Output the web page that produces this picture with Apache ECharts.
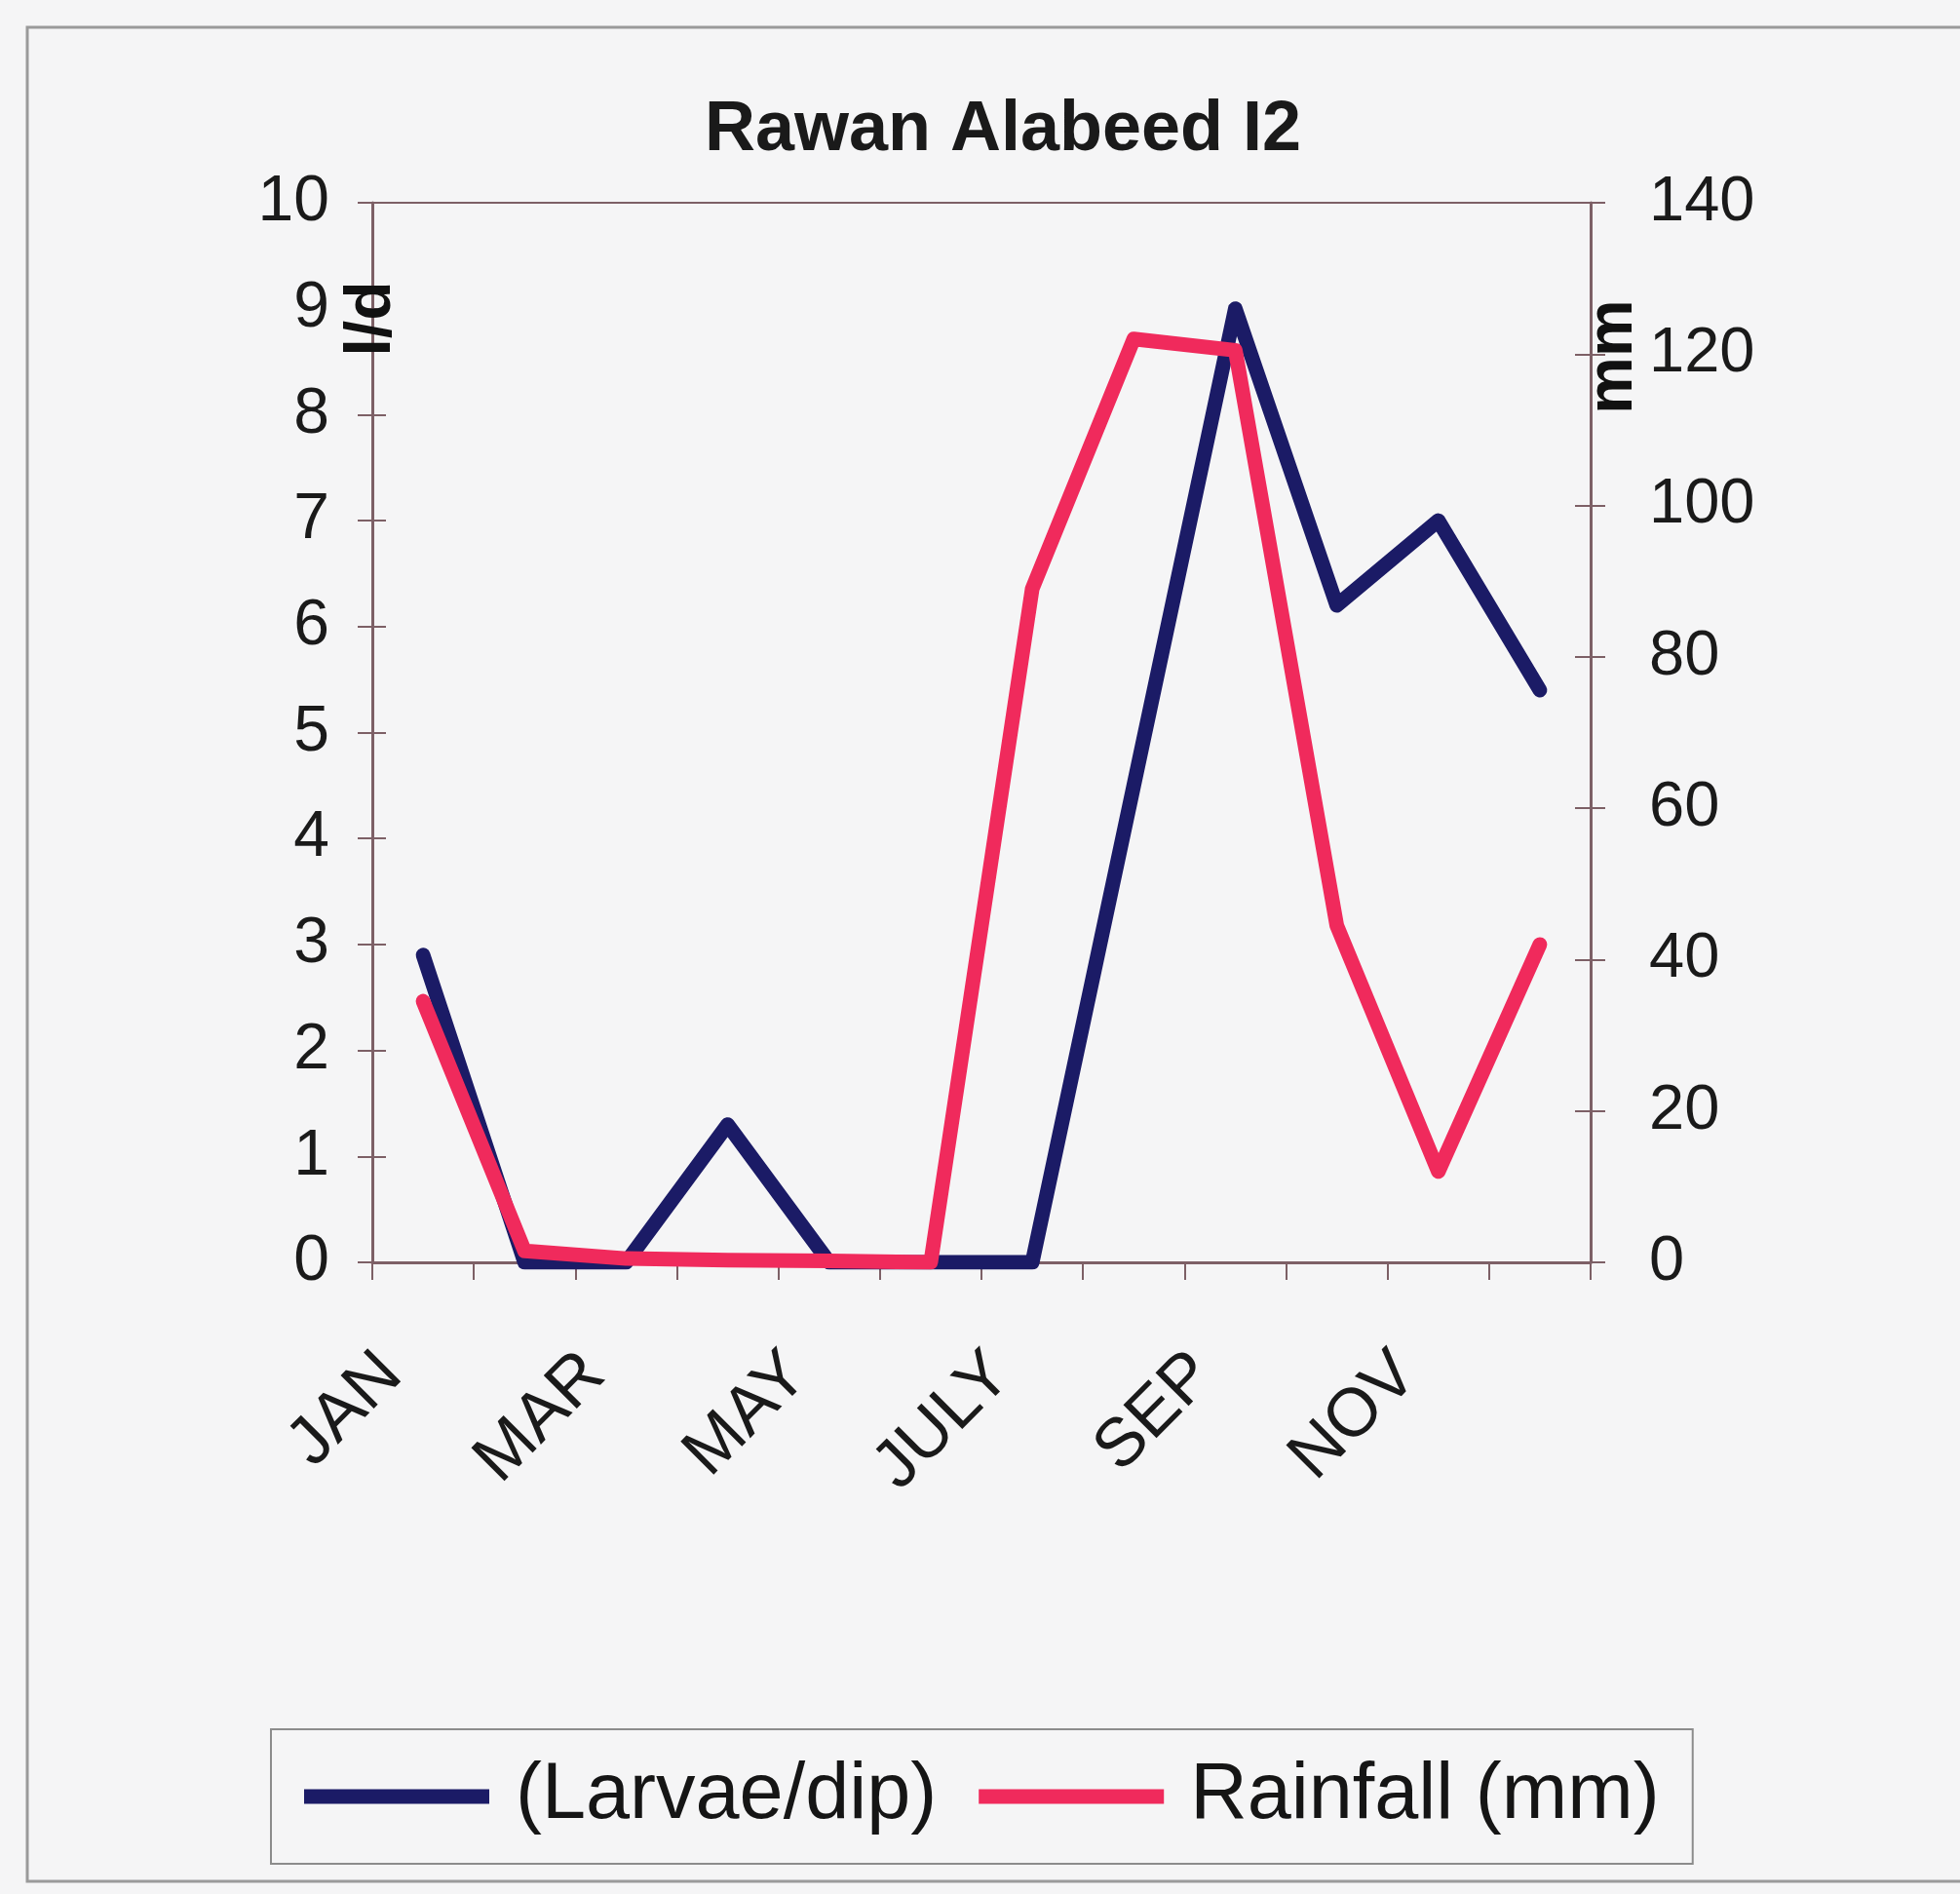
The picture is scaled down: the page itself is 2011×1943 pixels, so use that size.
<!DOCTYPE html>
<html>
<head>
<meta charset="utf-8">
<script src="https://cdn.jsdelivr.net/npm/echarts@6/dist/echarts.min.js"></script>
<style>
html,body{margin:0;padding:0;background:#f5f5f6;}
#c{width:2011px;height:1943px;}
</style>
</head>
<body>
<div id="c"></div>
<script>
const months = ['JAN','FEB','MAR','APR','MAY','JUNE','JULY','AUG','SEP','OCT','NOV','DEC'];
const larvae = [2.9, 0, 0, 1.3, 0, 0, 0, 4.5, 9.0, 6.2, 7.0, 5.4];
const rainfall = [34.5, 1.5, 0.5, 0.3, 0.2, 0, 89, 122, 120.5, 44.5, 12, 42];
const titleText = 'Rawan Alabeed I2';
const leftName = 'l/d';
const rightName = 'mm';
const seriesNames = ['(Larvae/dip)', 'Rainfall (mm)'];

const axisColor = '#7d6066';
const font = 'Liberation Sans, Arial, sans-serif';

const chart = echarts.init(document.getElementById('c'), null, {renderer:'canvas'});
const gridPos = {left: 382, top: 208, right: 379, bottom: 648};

chart.setOption({
  backgroundColor: '#f5f5f6',
  animation: false,
  grid: Object.assign({show: true, borderColor: axisColor, borderWidth: 2, backgroundColor: 'transparent'}, gridPos),
  graphic: [
    {type:'rect', shape:{x:28, y:28, width:2060, height:1902}, style:{fill:'none', stroke:'#9a9a9a', lineWidth:3}, z:-1},
    {type:'text', x:1029, y:134, style:{text:titleText, font:'bold 72px ' + font, fill:'#1a1a1a', textAlign:'center', textVerticalAlign:'middle'}},
    {type:'text', x:382, y:327, rotation:Math.PI/2, style:{text:leftName, font:'bold 66px ' + font, fill:'#111', textAlign:'center', textVerticalAlign:'middle'}, z:10},
    {type:'text', x:1656, y:366, rotation:Math.PI/2, style:{text:rightName, font:'bold 66px ' + font, fill:'#111', textAlign:'center', textVerticalAlign:'middle'}, z:10}
  ],
  legend: {
    left: 278, top: 1774,
    padding: [27, 34, 27, 34],
    borderColor: '#8c8c8c', borderWidth: 2,
    itemWidth: 190, itemHeight: 15, itemGap: 43,
    icon: 'rect',
    data: seriesNames,
    textStyle: {fontSize: 81, fontFamily: font, color: '#151515', lineHeight: 84, padding: [0, 0, 0, 22]}
  },
  xAxis: {
    type: 'category',
    data: months,
    boundaryGap: true,
    axisLine: {lineStyle: {color: axisColor, width: 3}},
    axisTick: {show: true, interval: 0, length: 18, lineStyle: {color: axisColor, width: 2}},
    axisLabel: {interval: 1, rotate: 45, fontSize: 70, fontFamily: font, color: '#1a1a1a', margin: 72, padding: [0, 46, 0, 0]},
    splitLine: {show: false}
  },
  yAxis: [
    {
      type: 'value', position: 'left', min: 0, max: 10, interval: 1,
      axisLine: {show: true, lineStyle: {color: axisColor, width: 3}},
      axisTick: {show: true, length: 15, lineStyle: {color: axisColor, width: 2}},
      axisLabel: {fontSize: 66, fontFamily: font, color: '#1a1a1a', margin: 44},
      splitLine: {show: false}
    },
    {
      type: 'value', position: 'right', min: 0, max: 140, interval: 20,
      axisLine: {show: true, lineStyle: {color: axisColor, width: 3}},
      axisTick: {show: true, length: 15, lineStyle: {color: axisColor, width: 2}},
      axisLabel: {fontSize: 65, fontFamily: font, color: '#1a1a1a', margin: 60},
      splitLine: {show: false}
    },
    {
      type: 'value', position: 'left', min: 0, max: 10, interval: 1,
      axisLine: {show: false}, axisLabel: {show: false}, splitLine: {show: false},
      axisTick: {show: true, inside: true, length: 14, lineStyle: {color: axisColor, width: 2}}
    },
    {
      type: 'value', position: 'right', min: 0, max: 140, interval: 20,
      axisLine: {show: false}, axisLabel: {show: false}, splitLine: {show: false},
      axisTick: {show: true, inside: true, length: 16, lineStyle: {color: axisColor, width: 2}}
    }
  ],
  series: [
    {
      name: seriesNames[0], type: 'line', yAxisIndex: 0, data: larvae,
      symbol: 'none', smooth: false,
      lineStyle: {color: '#1b1b66', width: 15, cap: 'round', join: 'round'},
      itemStyle: {color: '#1b1b66'}
    },
    {
      name: seriesNames[1], type: 'line', yAxisIndex: 1, data: rainfall,
      symbol: 'none', smooth: false,
      lineStyle: {color: '#f02a5c', width: 15, cap: 'round', join: 'round'},
      itemStyle: {color: '#f02a5c'}
    }
  ]
});
</script>
</body>
</html>
